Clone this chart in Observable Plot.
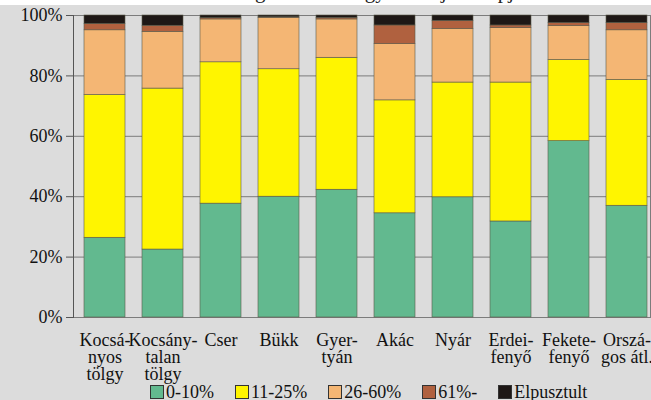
<!DOCTYPE html>
<html>
<head>
<meta charset="utf-8">
<script src="https://cdn.jsdelivr.net/npm/d3@7"></script>
<script src="https://cdn.jsdelivr.net/npm/@observablehq/plot@0.6"></script>
<style>
  html, body { margin: 0; padding: 0; background: #ffffff; width: 651px; height: 400px; overflow: hidden; }
  #title { height: 5px; overflow: hidden; background: #ffffff; position: relative; }
  #title span { position: absolute; left: 2px; top: -21px; font-family: "Liberation Serif", "Times New Roman", Times, serif; font-size: 21px; white-space: nowrap; color: #222; }
  #wrap { background: #dcdcdc; height: 395px; overflow: hidden; }
  #chart svg { display: block; }
  #legend { font-family: "Liberation Serif", "Times New Roman", Times, serif; font-size: 18px; color: #111; display: flex; margin-left: 150px; margin-top: -2px; line-height: 18px; }
  .item { display: flex; align-items: center; margin-right: 21px; }
  .sw { width: 14px; height: 14px; border: 1px solid #333; box-sizing: border-box; margin-right: 2px; }
</style>
</head>
<body>
<div id="title"><span>A fák lombvesztés szerinti megoszlása az egyes fafajok alapján</span></div>
<div id="wrap">
  <div id="chart"></div>
  <div id="legend"></div>
</div>
<script>
const categories = [
  "Kocsá-\nnyos\ntölgy", "Kocsány-\ntalan\ntölgy", "Cser", "Bükk", "Gyer-\ntyán",
  "Akác", "Nyár", "Erdei-\nfenyő", "Fekete-\nfenyő", "Orszá-\ngos átl."
];
const seriesNames = ["0-10%", "11-25%", "26-60%", "61%-", "Elpusztult"];
const seriesColors = ["#62b98f", "#fff500", "#f4b674", "#b0613f", "#1e1816"];
const v0_10 =   [26.4, 22.5, 37.7, 40.0, 42.3, 34.5, 39.8, 31.8, 58.4, 37.0];
const v11_25 =  [47.3, 53.3, 46.8, 42.2, 43.7, 37.4, 38.0, 46.0, 26.9, 41.7];
const v26_60 =  [21.4, 18.8, 14.2, 17.0, 12.7, 18.6, 17.7, 18.0, 11.2, 16.4];
const v61 =     [2.1, 2.0, 0.4, 0.2, 0.5, 6.2, 2.7, 0.9, 1.0, 2.4];
const vDead =   [2.8, 3.4, 0.9, 0.6, 0.8, 3.3, 1.8, 3.3, 2.5, 2.5];
const yTicks = [0, 20, 40, 60, 80, 100];

const seriesValues = [v0_10, v11_25, v26_60, v61, vDead];
const data = [];
seriesNames.forEach((s, si) => {
  categories.forEach((c, ci) => {
    data.push({cat: c, series: s, value: seriesValues[si][ci]});
  });
});

const serif = "'Liberation Serif', 'Times New Roman', Times, serif";
const chart = Plot.plot({
  width: 651,
  height: 380,
  marginTop: 10,
  marginBottom: 68,
  marginLeft: 73,
  marginRight: 1,
  style: {background: "transparent", fontFamily: serif, fontSize: "18px", color: "#111"},
  x: {domain: categories, range: [73.3, 656.3], padding: 0.3, paddingOuter: 0.15, label: null},
  y: {domain: [0, 100], label: null},
  color: {domain: seriesNames, range: seriesColors},
  marks: [
    Plot.ruleY(yTicks, {stroke: "#7c7c7c", strokeWidth: 1}),
    Plot.frame({anchor: "right", stroke: "#7c7c7c"}),
    Plot.barY(data, {x: "cat", y: "value", fill: "series", stroke: "#5a5a4a", strokeWidth: 0.6, order: seriesNames}),
    Plot.axisY({ticks: yTicks, tickFormat: d => d + "%", tickSize: 7, tickPadding: 4, stroke: "#555", fontSize: 18, fontFamily: serif, label: null}),
    Plot.frame({anchor: "left", stroke: "#555"}),
    Plot.axisX({tickSize: 0, tickPadding: 16, fontSize: 18, fontFamily: serif, label: null, lineHeight: 0.95})
  ]
});
document.getElementById("chart").appendChild(chart);

const legend = document.getElementById("legend");
seriesNames.forEach((s, i) => {
  const it = document.createElement("div");
  it.className = "item";
  const sw = document.createElement("div");
  sw.className = "sw";
  sw.style.background = seriesColors[i];
  it.appendChild(sw);
  const t = document.createElement("span");
  t.textContent = s;
  it.appendChild(t);
  legend.appendChild(it);
});
</script>
</body>
</html>
